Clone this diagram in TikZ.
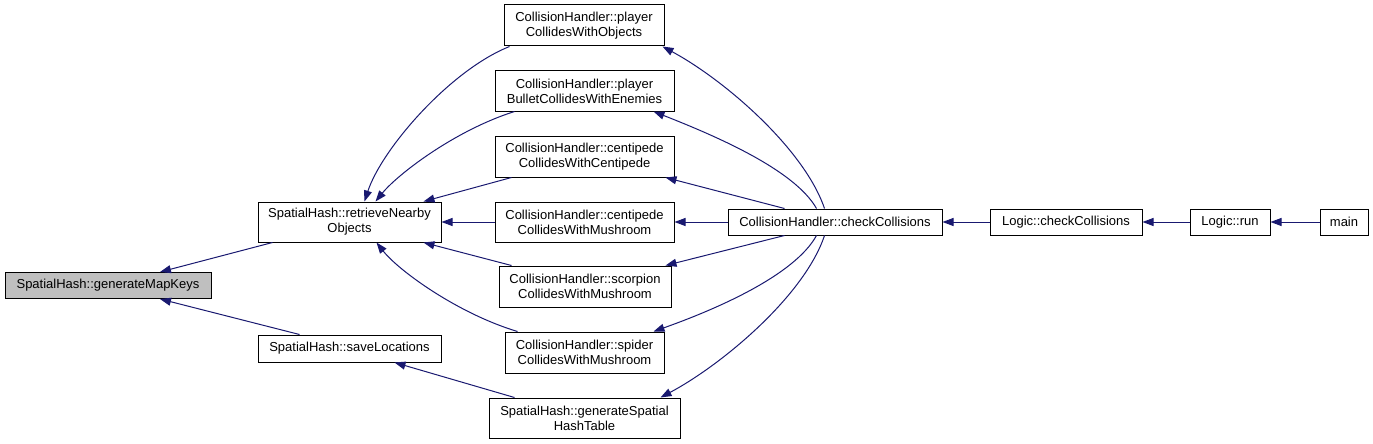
\documentclass[tikz,border=0pt]{standalone}
\usepackage{fontspec}
\setmainfont{Liberation Sans}
\usetikzlibrary{arrows.meta,calc}
\definecolor{edgeblue}{HTML}{191970}
\definecolor{gmkgrey}{HTML}{BFBFBF}
\tikzset{
  fn/.style={draw=black, line width=1pt, fill=white, rectangle, inner sep=0pt, align=center,
    font=\fontsize{13}{15}\selectfont},
  e/.style={draw=edgeblue, line width=1pt, -{Triangle[length=11pt,width=8pt]}},
}
\begin{document}
\begin{tikzpicture}[x=1pt,y=-1pt]
\useasboundingbox (0,0) rectangle (1373,444);
\node[fn, fill=gmkgrey, minimum width=206pt, minimum height=26pt] (gmk) at (108,285.5) {SpatialHash::generateMapKeys};
\node[fn, minimum width=183pt, minimum height=40pt] (rno) at (349.5,222) {SpatialHash::retrieveNearby\\Objects};
\node[fn, minimum width=183pt, minimum height=27pt] (sl) at (349.5,348.5) {SpatialHash::saveLocations};
\node[fn, minimum width=160pt, minimum height=41pt] (pcwo) at (584,25.5) {CollisionHandler::player\\CollidesWithObjects};
\node[fn, minimum width=179pt, minimum height=40pt] (pbce) at (584.5,91) {CollisionHandler::player\\BulletCollidesWithEnemies};
\node[fn, minimum width=179pt, minimum height=41pt] (ccwc) at (584.5,156.5) {CollisionHandler::centipede\\CollidesWithCentipede};
\node[fn, minimum width=179pt, minimum height=40pt] (ccwm) at (584.5,222) {CollisionHandler::centipede\\CollidesWithMushroom};
\node[fn, minimum width=172pt, minimum height=41pt] (scwm) at (585,286.5) {CollisionHandler::scorpion\\CollidesWithMushroom};
\node[fn, minimum width=159pt, minimum height=41pt] (spcwm) at (584.5,352.5) {CollisionHandler::spider\\CollidesWithMushroom};
\node[fn, minimum width=191pt, minimum height=40pt] (gsht) at (584.5,418) {SpatialHash::generateSpatial\\HashTable};
\node[fn, minimum width=214pt, minimum height=26pt] (chcc) at (835,222) {CollisionHandler::checkCollisions};
\node[fn, minimum width=152pt, minimum height=26pt] (lcc) at (1066,222) {Logic::checkCollisions};
\node[fn, minimum width=80pt, minimum height=26pt] (lrun) at (1230,222) {Logic::run};
\node[fn, minimum width=48pt, minimum height=26pt] (main) at (1344,222) {main};

% edges into generateMapKeys
\draw[e] ($(rno.south west)+(15,0)$) -- ($(gmk.north)+(52,0)$);
\draw[e] ($(sl.north west)+(42,0)$) -- ($(gmk.south)+(52,0)$);
% edges into retrieveNearbyObjects
\draw[e] ($(pcwo.south west)+(6,0)$) .. controls +(-60,24) and +(17,-52) .. ($(rno.north west)+(107,0)$);
\draw[e] ($(pbce.south west)+(20,0)$) .. controls +(-60,19) and +(22,-27) .. ($(rno.north west)+(118,0)$);
\draw[e] ($(ccwc.south west)+(17,0)$) -- ($(rno.north east)+(-18,0)$);
\draw[e] (ccwm.west) -- (rno.east);
\draw[e] ($(scwm.north west)+(13,0)$) -- ($(rno.south east)+(-18,0)$);
\draw[e] ($(spcwm.north west)+(13,0)$) .. controls +(-60,-18) and +(22,28) .. ($(rno.south west)+(119,0)$);
% into saveLocations
\draw[e] ($(gsht.north west)+(26,0)$) -- ($(sl.south west)+(137,0)$);
% from checkCollisions
\draw[e] ($(chcc.north west)+(97,0)$) .. controls +(-20,-59) and +(63,34) .. ($(pcwo.south east)+(-2,0)$);
\draw[e] ($(chcc.north west)+(89,0)$) .. controls +(-22,-39) and +(61,24) .. ($(pbce.south east)+(-21,0)$);
\draw[e] ($(chcc.north west)+(57,0)$) -- ($(ccwc.south east)+(-9,0)$);
\draw[e] (chcc.west) -- (ccwm.east);
\draw[e] ($(chcc.south west)+(57,0)$) -- ($(scwm.north east)+(-6,0)$);
\draw[e] ($(chcc.south west)+(89,0)$) .. controls +(-22,40) and +(62,-22) .. ($(spcwm.north east)+(-11,0)$);
\draw[e] ($(chcc.south west)+(97,0)$) .. controls +(-20,60) and +(62,-33) .. ($(gsht.north east)+(-20,0)$);
% chain
\draw[e] (lcc.west) -- (chcc.east);
\draw[e] (lrun.west) -- (lcc.east);
\draw[e] (main.west) -- (lrun.east);
\end{tikzpicture}
\end{document}
